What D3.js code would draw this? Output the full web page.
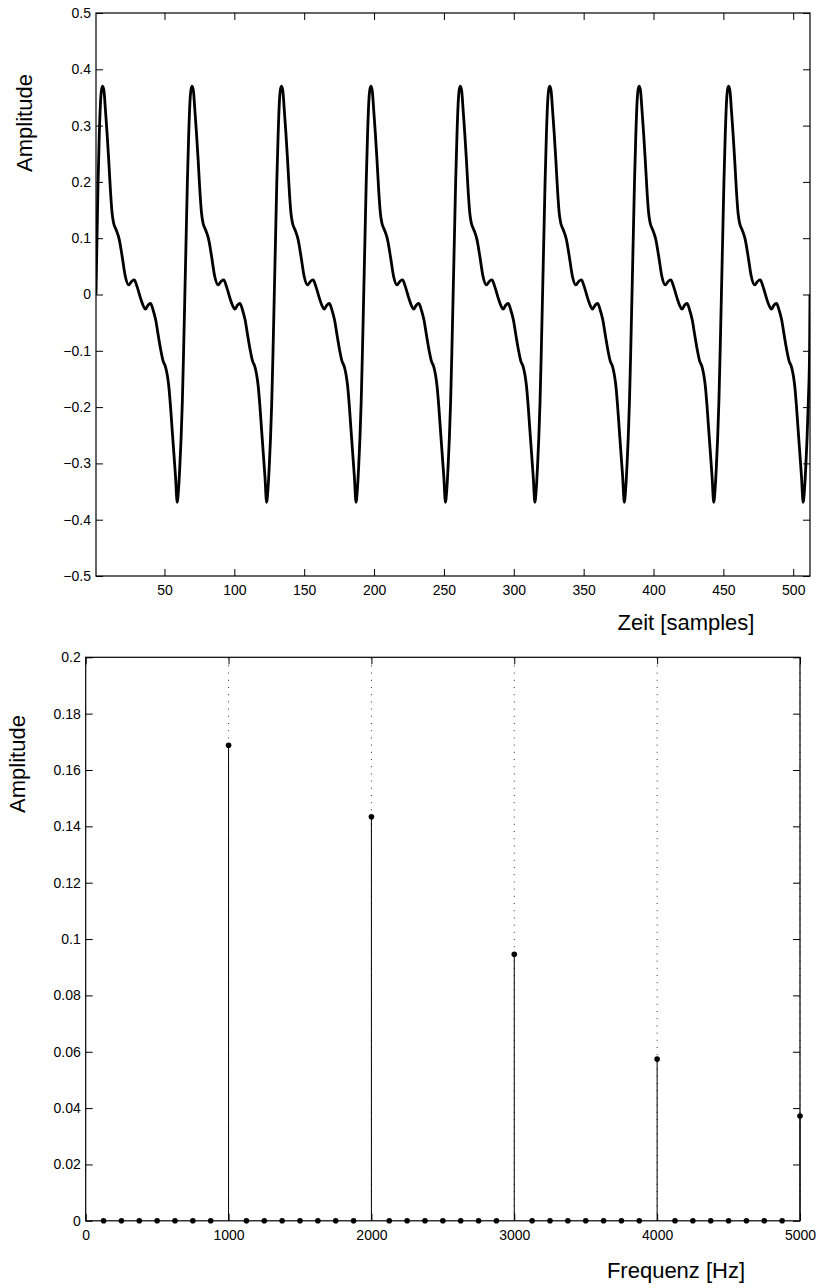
<!DOCTYPE html>
<html>
<head>
<meta charset="utf-8">
<script src="https://cdn.jsdelivr.net/npm/d3@7"></script>
<style>
  html, body { margin: 0; padding: 0; background: #fff; }
  svg { display: block; }
  text { font-family: "Liberation Sans", Arial, Helvetica, sans-serif; fill: #000; }
</style>
</head>
<body>
<svg id="chart" width="821" height="1288"></svg>
<script>
// ---------------- Data ----------------
// Top panel: waveform, sample position vs amplitude
const timeSamples = [
  1.0, 1.5, 2.4, 3.3, 4.2, 5.0,
  5.8,6.8,7.8,8.9,10.1,11.3,12.5,13.7,15.4,17.7,19.7,22.0,24.4,26.8,28.4,30.4,32.8,34.8,36.4,38.2,40.0,41.8,43.7,45.5,47.3,49.0,50.7,52.0,53.1,54.3,55.5,56.8,57.9,59.1,60.1,61.0,61.9,62.8,63.7,64.6,65.5,66.4,67.3,68.2,69.0,
  69.8,70.8,71.8,72.9,74.1,75.3,76.5,77.7,79.4,81.7,83.7,86.0,88.4,90.8,92.4,94.4,96.8,98.8,100.4,102.2,104.0,105.8,107.7,109.5,111.3,113.0,114.7,116.0,117.1,118.3,119.5,120.8,121.9,123.1,124.1,125.0,125.9,126.8,127.7,128.6,129.5,130.4,131.3,132.2,133.0,
  133.8,134.8,135.8,136.9,138.1,139.3,140.5,141.7,143.4,145.7,147.7,150.0,152.4,154.8,156.4,158.4,160.8,162.8,164.4,166.2,168.0,169.8,171.7,173.5,175.3,177.0,178.7,180.0,181.1,182.3,183.5,184.8,185.9,187.1,188.1,189.0,189.9,190.8,191.7,192.6,193.5,194.4,195.3,196.2,197.0,
  197.8,198.8,199.8,200.9,202.1,203.3,204.5,205.7,207.4,209.7,211.7,214.0,216.4,218.8,220.4,222.4,224.8,226.8,228.4,230.2,232.0,233.8,235.7,237.5,239.3,241.0,242.7,244.0,245.1,246.3,247.5,248.8,249.9,251.1,252.1,253.0,253.9,254.8,255.7,256.6,257.5,258.4,259.3,260.2,261.0,
  261.8,262.8,263.8,264.9,266.1,267.3,268.5,269.7,271.4,273.7,275.7,278.0,280.4,282.8,284.4,286.4,288.8,290.8,292.4,294.2,296.0,297.8,299.7,301.5,303.3,305.0,306.7,308.0,309.1,310.3,311.5,312.8,313.9,315.1,316.1,317.0,317.9,318.8,319.7,320.6,321.5,322.4,323.3,324.2,325.0,
  325.8,326.8,327.8,328.9,330.1,331.3,332.5,333.7,335.4,337.7,339.7,342.0,344.4,346.8,348.4,350.4,352.8,354.8,356.4,358.2,360.0,361.8,363.7,365.5,367.3,369.0,370.7,372.0,373.1,374.3,375.5,376.8,377.9,379.1,380.1,381.0,381.9,382.8,383.7,384.6,385.5,386.4,387.3,388.2,389.0,
  389.8,390.8,391.8,392.9,394.1,395.3,396.5,397.7,399.4,401.7,403.7,406.0,408.4,410.8,412.4,414.4,416.8,418.8,420.4,422.2,424.0,425.8,427.7,429.5,431.3,433.0,434.7,436.0,437.1,438.3,439.5,440.8,441.9,443.1,444.1,445.0,445.9,446.8,447.7,448.6,449.5,450.4,451.3,452.2,453.0,
  453.8,454.8,455.8,456.9,458.1,459.3,460.5,461.7,463.4,465.7,467.7,470.0,472.4,474.8,476.4,478.4,480.8,482.8,484.4,486.2,488.0,489.8,491.7,493.5,495.3,497.0,498.7,500.0,501.1,502.3,503.5,504.8,505.9,507.1,508.1,509.0,509.9,510.8,511.7,512.0
];
const timeAmplitude = [
  0.000, 0.070, 0.190, 0.280, 0.340, 0.364,
  0.370,0.360,0.326,0.287,0.239,0.186,0.145,0.126,0.115,0.097,0.068,0.032,0.017,0.024,0.026,0.014,-0.006,-0.020,-0.026,-0.019,-0.016,-0.027,-0.045,-0.072,-0.098,-0.118,-0.128,-0.143,-0.163,-0.198,-0.240,-0.285,-0.323,-0.369,-0.345,-0.305,-0.255,-0.190,-0.100,0.000,0.100,0.200,0.280,0.340,0.364,
  0.370,0.360,0.326,0.287,0.239,0.186,0.145,0.126,0.115,0.097,0.068,0.032,0.017,0.024,0.026,0.014,-0.006,-0.020,-0.026,-0.019,-0.016,-0.027,-0.045,-0.072,-0.098,-0.118,-0.128,-0.143,-0.163,-0.198,-0.240,-0.285,-0.323,-0.369,-0.345,-0.305,-0.255,-0.190,-0.100,0.000,0.100,0.200,0.280,0.340,0.364,
  0.370,0.360,0.326,0.287,0.239,0.186,0.145,0.126,0.115,0.097,0.068,0.032,0.017,0.024,0.026,0.014,-0.006,-0.020,-0.026,-0.019,-0.016,-0.027,-0.045,-0.072,-0.098,-0.118,-0.128,-0.143,-0.163,-0.198,-0.240,-0.285,-0.323,-0.369,-0.345,-0.305,-0.255,-0.190,-0.100,0.000,0.100,0.200,0.280,0.340,0.364,
  0.370,0.360,0.326,0.287,0.239,0.186,0.145,0.126,0.115,0.097,0.068,0.032,0.017,0.024,0.026,0.014,-0.006,-0.020,-0.026,-0.019,-0.016,-0.027,-0.045,-0.072,-0.098,-0.118,-0.128,-0.143,-0.163,-0.198,-0.240,-0.285,-0.323,-0.369,-0.345,-0.305,-0.255,-0.190,-0.100,0.000,0.100,0.200,0.280,0.340,0.364,
  0.370,0.360,0.326,0.287,0.239,0.186,0.145,0.126,0.115,0.097,0.068,0.032,0.017,0.024,0.026,0.014,-0.006,-0.020,-0.026,-0.019,-0.016,-0.027,-0.045,-0.072,-0.098,-0.118,-0.128,-0.143,-0.163,-0.198,-0.240,-0.285,-0.323,-0.369,-0.345,-0.305,-0.255,-0.190,-0.100,0.000,0.100,0.200,0.280,0.340,0.364,
  0.370,0.360,0.326,0.287,0.239,0.186,0.145,0.126,0.115,0.097,0.068,0.032,0.017,0.024,0.026,0.014,-0.006,-0.020,-0.026,-0.019,-0.016,-0.027,-0.045,-0.072,-0.098,-0.118,-0.128,-0.143,-0.163,-0.198,-0.240,-0.285,-0.323,-0.369,-0.345,-0.305,-0.255,-0.190,-0.100,0.000,0.100,0.200,0.280,0.340,0.364,
  0.370,0.360,0.326,0.287,0.239,0.186,0.145,0.126,0.115,0.097,0.068,0.032,0.017,0.024,0.026,0.014,-0.006,-0.020,-0.026,-0.019,-0.016,-0.027,-0.045,-0.072,-0.098,-0.118,-0.128,-0.143,-0.163,-0.198,-0.240,-0.285,-0.323,-0.369,-0.345,-0.305,-0.255,-0.190,-0.100,0.000,0.100,0.200,0.280,0.340,0.364,
  0.370,0.360,0.326,0.287,0.239,0.186,0.145,0.126,0.115,0.097,0.068,0.032,0.017,0.024,0.026,0.014,-0.006,-0.020,-0.026,-0.019,-0.016,-0.027,-0.045,-0.072,-0.098,-0.118,-0.128,-0.143,-0.163,-0.198,-0.240,-0.285,-0.323,-0.369,-0.345,-0.305,-0.255,-0.190,-0.100,0.000
];
const topXTicks = [50, 100, 150, 200, 250, 300, 350, 400, 450, 500];
const topYTicks = [-0.5, -0.4, -0.3, -0.2, -0.1, 0, 0.1, 0.2, 0.3, 0.4, 0.5];
const topYTickLabels = ["\u22120.5", "\u22120.4", "\u22120.3", "\u22120.2", "\u22120.1", "0", "0.1", "0.2", "0.3", "0.4", "0.5"];

// Bottom panel: spectrum (bins every 125 Hz)
const spectrumFreqs = [125,250,375,500,625,750,875,1000,1125,1250,1375,1500,1625,1750,1875,2000,
  2125,2250,2375,2500,2625,2750,2875,3000,3125,3250,3375,3500,3625,3750,3875,4000,
  4125,4250,4375,4500,4625,4750,4875,5000];
const spectrumAmps = [0,0,0,0,0,0,0,0.1688,0,0,0,0,0,0,0,0.1434,
  0,0,0,0,0,0,0,0.0946,0,0,0,0,0,0,0,0.0574,
  0,0,0,0,0,0,0,0.0372];
const dottedFreqs = [1000, 2000, 3000, 4000, 5000];
const botXTicks = [0, 1000, 2000, 3000, 4000, 5000];
const botYTicks = [0, 0.02, 0.04, 0.06, 0.08, 0.1, 0.12, 0.14, 0.16, 0.18, 0.2];
const botYTickLabels = ["0", "0.02", "0.04", "0.06", "0.08", "0.1", "0.12", "0.14", "0.16", "0.18", "0.2"];

// ---------------- Drawing ----------------
const svg = d3.select("#chart");
const tickFont = "14px";
const labelFont = "22px";

function frame(g, x, y, xTicks, yTicks, yLabels) {
  const [x0, x1] = x.range();
  const [y0, y1] = y.range();
  g.append("g").attr("transform", `translate(0,${y0})`)
    .call(d3.axisBottom(x).tickValues(xTicks).tickSize(-7).tickPadding(9).tickFormat(d3.format("d")))
    .call(s => s.select(".domain").remove())
    .call(s => s.selectAll("line").attr("stroke", "#000"))
    .call(s => s.selectAll("text").style("font-size", tickFont));
  g.append("g").attr("transform", `translate(0,${y1})`)
    .call(d3.axisTop(x).tickValues(xTicks).tickSize(-7).tickFormat(""))
    .call(s => s.select(".domain").remove())
    .call(s => s.selectAll("line").attr("stroke", "#000"));
  g.append("g").attr("transform", `translate(${x0},0)`)
    .call(d3.axisLeft(y).tickValues(yTicks).tickSize(-7).tickPadding(5)
      .tickFormat((d, i) => yLabels[i]))
    .call(s => s.select(".domain").remove())
    .call(s => s.selectAll("line").attr("stroke", "#000"))
    .call(s => s.selectAll("text").style("font-size", tickFont));
  g.append("g").attr("transform", `translate(${x1},0)`)
    .call(d3.axisRight(y).tickValues(yTicks).tickSize(-7).tickFormat(""))
    .call(s => s.select(".domain").remove())
    .call(s => s.selectAll("line").attr("stroke", "#000"));
  g.append("rect")
    .attr("x", x0).attr("y", y1).attr("width", x1 - x0).attr("height", y0 - y1)
    .attr("fill", "none").attr("stroke", "#000").attr("stroke-width", 1.2);
}

// ---- Top panel ----
const xTop = d3.scaleLinear().domain([1, 512]).range([96, 810]);
const yTop = d3.scaleLinear().domain([-0.5, 0.5]).range([576, 13]);
const gTop = svg.append("g");

svg.append("defs").append("clipPath").attr("id", "clipTop")
  .append("rect").attr("x", 96).attr("y", 13).attr("width", 714).attr("height", 563);

const wave = timeSamples.map((s, i) => [s, timeAmplitude[i]]);
gTop.append("path")
  .datum(wave)
  .attr("clip-path", "url(#clipTop)")
  .attr("fill", "none")
  .attr("stroke", "#000")
  .attr("stroke-width", 2.8)
  .attr("stroke-linejoin", "round")
  .attr("d", d3.line().x(d => xTop(d[0])).y(d => yTop(d[1])).curve(d3.curveMonotoneX));

frame(gTop, xTop, yTop, topXTicks, topYTicks, topYTickLabels);

gTop.append("text")
  .attr("transform", "translate(32,123) rotate(-90)")
  .attr("text-anchor", "middle")
  .style("font-size", labelFont)
  .text("Amplitude");
gTop.append("text")
  .attr("x", 686).attr("y", 630)
  .attr("text-anchor", "middle")
  .style("font-size", labelFont)
  .text("Zeit [samples]");

// ---- Bottom panel ----
const xBot = d3.scaleLinear().domain([0, 5000]).range([85.7, 800]);
const yBot = d3.scaleLinear().domain([0, 0.2]).range([1220.8, 657.3]);
const gBot = svg.append("g");

gBot.selectAll("line.dotted").data(dottedFreqs).enter().append("line")
  .attr("class", "dotted")
  .attr("x1", d => xBot(d)).attr("x2", d => xBot(d))
  .attr("y1", yBot(0)).attr("y2", yBot(0.2))
  .attr("stroke", "#333").attr("stroke-width", 1)
  .attr("stroke-dasharray", "1,6.2");

const spec = spectrumFreqs.map((f, i) => ({ f, a: spectrumAmps[i] }));
gBot.selectAll("line.stem").data(spec).enter().append("line")
  .attr("class", "stem")
  .attr("x1", d => xBot(d.f)).attr("x2", d => xBot(d.f))
  .attr("y1", yBot(0)).attr("y2", d => yBot(d.a))
  .attr("stroke", "#000").attr("stroke-width", 1);

frame(gBot, xBot, yBot, botXTicks, botYTicks, botYTickLabels);

gBot.selectAll("circle.mark").data(spec).enter().append("circle")
  .attr("class", "mark")
  .attr("cx", d => xBot(d.f)).attr("cy", d => yBot(d.a))
  .attr("r", 2.8).attr("fill", "#000");

gBot.append("text")
  .attr("transform", "translate(25,764) rotate(-90)")
  .attr("text-anchor", "middle")
  .style("font-size", labelFont)
  .text("Amplitude");
gBot.append("text")
  .attr("x", 676).attr("y", 1278)
  .attr("text-anchor", "middle")
  .style("font-size", labelFont)
  .text("Frequenz [Hz]");
</script>
</body>
</html>
